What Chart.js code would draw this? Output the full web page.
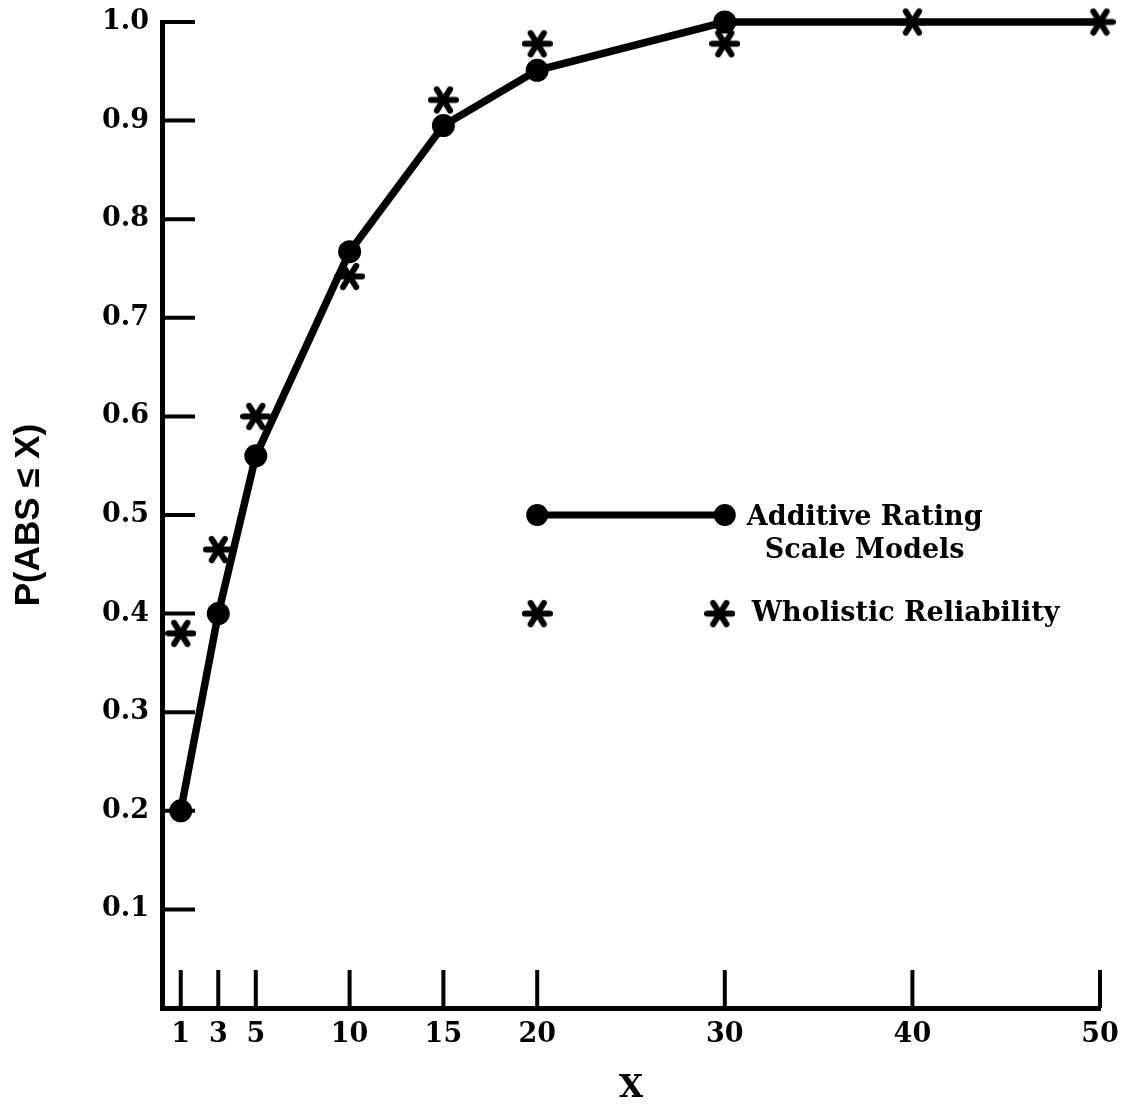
<!DOCTYPE html>
<html>
<head>
<meta charset="utf-8">
<script src="https://cdn.jsdelivr.net/npm/chart.js@4.4.1/dist/chart.umd.min.js"></script>
<style>
  html, body { margin: 0; padding: 0; background: #fff; }
</style>
</head>
<body>
<canvas id="c" width="1122" height="1110"></canvas>
<script>
// P(ABS <= X) curves: additive rating-scale models vs wholistic reliability
const xTicks = [1, 3, 5, 10, 15, 20, 30, 40, 50];
const yTicks = [0.1, 0.2, 0.3, 0.4, 0.5, 0.6, 0.7, 0.8, 0.9, 1.0];
const additive  = [0.20, 0.40, 0.56, 0.767, 0.895, 0.951, 1.0, 1.0, 1.0];
const wholistic = [0.38, 0.465, 0.60, 0.742, 0.921, 0.978, 0.978, 1.0, 1.0];
const additiveDots = [1, 1, 1, 1, 1, 1, 1, 0, 0];   // no dot drawn at 40 / 50
const legendX = [20, 30];
const legendY = [0.5, 0.4];
const legendText = [['Additive Rating', 'Scale Models'], ['Wholistic Reliability']];

const INK = '#000';
const SERIF = '"DejaVu Serif", serif';
Chart.defaults.color = INK;
Chart.defaults.font.family = SERIF;
Chart.defaults.font.weight = 'bold';
Chart.defaults.font.size = 27;

function asterisk(size, lw) {
  const c = document.createElement('canvas');
  c.width = c.height = size;
  const g = c.getContext('2d');
  g.strokeStyle = INK; g.lineWidth = lw; g.lineCap = 'round';
  const m = size / 2, r = m - lw / 2;
  [0, 58, 122].forEach(a => {
    const t = a * Math.PI / 180;
    g.beginPath();
    g.moveTo(m - r * Math.cos(t), m - r * Math.sin(t));
    g.lineTo(m + r * Math.cos(t), m + r * Math.sin(t));
    g.stroke();
  });
  return c;
}
const STAR = asterisk(31, 6);

const pts = vals => xTicks.map((x, i) => ({ x, y: vals[i] }));

// tick marks sit inside the plot, drawn from the axis inwards
const innerTicks = {
  id: 'innerTicks',
  beforeDatasetsDraw(chart) {
    const { ctx, chartArea: a, scales: { x, y } } = chart;
    ctx.save();
    ctx.strokeStyle = INK; ctx.lineWidth = 4;
    ctx.beginPath();
    yTicks.forEach(v => { const p = y.getPixelForValue(v); ctx.moveTo(a.left, p); ctx.lineTo(a.left + 33, p); });
    xTicks.forEach(v => { const p = x.getPixelForValue(v); ctx.moveTo(p, a.bottom); ctx.lineTo(p, a.bottom - 38); });
    ctx.stroke();
    ctx.restore();
  }
};

const keyBox = {
  id: 'keyBox',
  afterDatasetsDraw(chart) {
    const { ctx, scales: { x, y } } = chart;
    const x0 = x.getPixelForValue(legendX[0]), x1 = x.getPixelForValue(legendX[1]);
    const y0 = y.getPixelForValue(legendY[0]), y1 = y.getPixelForValue(legendY[1]);
    ctx.save();
    ctx.strokeStyle = INK; ctx.fillStyle = INK; ctx.lineWidth = 7;
    ctx.beginPath(); ctx.moveTo(x0, y0); ctx.lineTo(x1, y0); ctx.stroke();
    [x0, x1].forEach(px => { ctx.beginPath(); ctx.arc(px, y0, 11, 0, Math.PI * 2); ctx.fill(); });
    [x0, x1 - 5].forEach(px => ctx.drawImage(STAR, px - 15.5, y1 - 15.5));
    ctx.font = 'bold 27px ' + SERIF;
    ctx.textBaseline = 'middle';
    ctx.textAlign = 'left';
    const tx = x1 + 22;
    ctx.fillText(legendText[0][0], tx, y0 + 3);
    const w = ctx.measureText(legendText[0][0]).width;
    ctx.textAlign = 'center';
    ctx.fillText(legendText[0][1], tx + w / 2, y0 + 36);
    ctx.textAlign = 'left';
    ctx.fillText(legendText[1][0], x1 + 27, y1);
    ctx.restore();
  }
};

new Chart(document.getElementById('c'), {
  type: 'scatter',
  data: {
    datasets: [
      { label: 'Additive Rating Scale Models', data: pts(additive), showLine: true,
        borderColor: INK, borderWidth: 7.5, backgroundColor: INK,
        pointStyle: 'circle', pointRadius: additiveDots.map(d => d ? 11.5 : 0),
        pointBorderWidth: 0, clip: false },
      { label: 'Wholistic Reliability', data: pts(wholistic), showLine: false,
        pointStyle: STAR, pointRadius: 16, clip: false }
    ]
  },
  options: {
    responsive: false,
    animation: false,
    devicePixelRatio: 1,
    layout: { padding: { top: 22, right: 22, left: 0, bottom: 0 } },
    plugins: { legend: { display: false }, tooltip: { enabled: false } },
    scales: {
      x: {
        type: 'linear', min: 0, max: 50,
        grid: { display: false, drawTicks: false },
        border: { display: true, color: INK, width: 5 },
        afterBuildTicks: s => { s.ticks = xTicks.map(v => ({ value: v })); },
        afterFit: s => { s.height = 102; s.paddingLeft = 0; s.paddingRight = 0; },
        ticks: { padding: 11, autoSkip: false, maxRotation: 0, callback: v => String(v) },
        title: { display: true, text: 'X', padding: { top: 0, bottom: 2 },
                 font: { family: SERIF, weight: 'bold', size: 31 } }
      },
      y: {
        type: 'linear', min: 0, max: 1,
        grid: { display: false, drawTicks: false },
        border: { display: true, color: INK, width: 5 },
        afterBuildTicks: s => { s.ticks = yTicks.map(v => ({ value: v })); },
        afterFit: s => { s.width = 162; s.paddingTop = 0; s.paddingBottom = 0; },
        ticks: { padding: 13, callback: v => v.toFixed(1) },
        title: { display: true, text: 'P(ABS ≤ X)', padding: { top: 8, bottom: 0 },
                 font: { family: '"Liberation Sans", Arial, sans-serif', weight: 'bold', size: 35 } }
      }
    }
  },
  plugins: [innerTicks, keyBox]
});
</script>
</body>
</html>
